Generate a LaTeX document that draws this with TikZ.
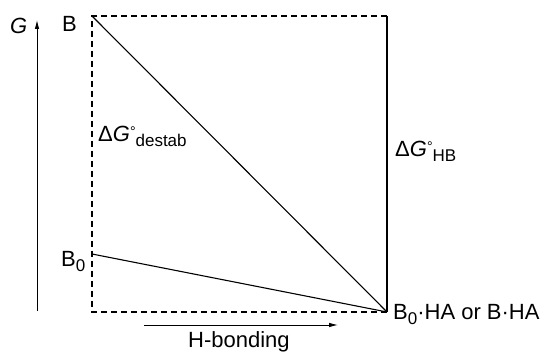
\documentclass[tikz,border=0pt]{standalone}
\usepackage{fontspec}
\setmainfont{Liberation Sans}
\usetikzlibrary{arrows.meta}
\newcommand{\mysub}[1]{\raisebox{-0.38ex}{\fontsize{17}{17}\selectfont #1}}
\newcommand{\mydg}{Δ\textit{G}\raisebox{0.5ex}{\fontsize{14}{14}\selectfont °}}
\begin{document}
\begin{tikzpicture}[x=1pt,y=-1pt,
  lbl/.style={inner sep=0pt,anchor=base west,font=\fontsize{22}{24}\selectfont},
  dashedge/.style={line width=1.8pt,dash pattern=on 6pt off 4pt},
  solidedge/.style={line width=1.1pt},
  axisarrow/.style={line width=0.9pt,-{Latex[length=9pt,width=4.5pt]}}]
\useasboundingbox (0,0) rectangle (544,352);
\coordinate (tl) at (92,16);
\coordinate (tr) at (387,16);
\coordinate (br) at (387,312);
\coordinate (bl) at (92,312);
\coordinate (bz) at (92,254);
\coordinate (g0) at (37,311);
\coordinate (g1) at (37,20);
\coordinate (h0) at (144,325);
\coordinate (h1) at (338,325);
% box
\draw[dashedge] (tr) -- (tl) -- (bl) -- (br);
\draw[solidedge] (tr) -- (br);
\draw[solidedge] (tl) -- (br);
\draw[solidedge] (bz) -- (br);
% axes
\draw[axisarrow] (g0) -- (g1);
\draw[axisarrow] (h0) -- (h1);
% labels
\node[lbl] (G) at (10,34) {\textit{G}};
\node[lbl] (B) at (62,32) {B};
\node[lbl] (B0) at (61,267) {B\mysub{0}};
\node[lbl] (dd) at (98,142) {\mydg\mysub{destab}};
\node[lbl] (dhb) at (395,157) {\mydg\mysub{HB}};
\node[lbl] (prod) at (393,320) {B\mysub{0}·HA or B·HA};
\node[lbl] (hbond) at (188,348) {H-bonding};
\end{tikzpicture}
\end{document}
